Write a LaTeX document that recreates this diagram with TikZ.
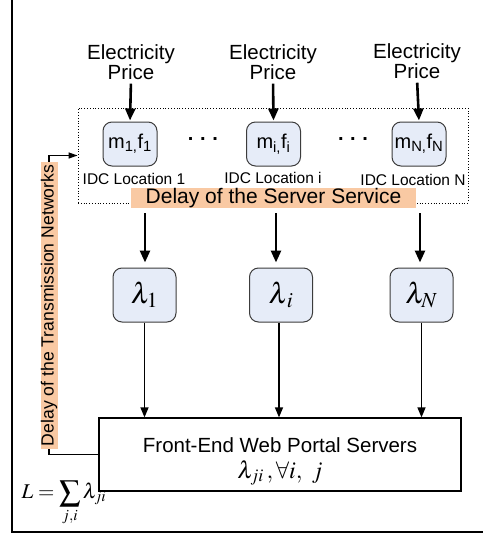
\documentclass[tikz,border=0pt]{standalone}
\usepackage{mathptmx}
\usepackage[no-math]{fontspec}
\setmainfont{Liberation Sans}
\usetikzlibrary{arrows.meta}
\definecolor{boxfill}{RGB}{230,236,248}
\definecolor{boxline}{RGB}{60,60,60}
\definecolor{bandfill}{RGB}{249,201,163}
\tikzset{
  pricelbl/.style={align=center,font=\fontsize{20.5}{20}\selectfont,inner sep=0pt},
  mbox/.style={draw=boxline,line width=1pt,fill=boxfill,rounded corners=9pt,minimum width=54pt,minimum height=44pt,inner sep=0pt,font=\fontsize{20}{20}\selectfont},
  lbox/.style={draw=boxline,line width=1pt,fill=boxfill,rounded corners=9pt,minimum width=63pt,minimum height=54pt,inner sep=0pt,font=\fontsize{29}{29}\selectfont},
  idclbl/.style={font=\fontsize{15.5}{15.5}\selectfont,inner sep=0pt},
  band/.style={fill=bandfill,inner sep=0pt,font=\fontsize{21}{21}\selectfont},
  dotslbl/.style={font=\fontsize{20}{20}\selectfont\bfseries,inner sep=0pt},
  thickarrow/.style={line width=2.6pt,-{Triangle[width=10pt,length=12pt]}},
  thinarrow/.style={line width=1.3pt,-{Triangle[width=8pt,length=10pt]}},
  thinline/.style={line width=1.2pt},
  frontbox/.style={draw,line width=1.2pt,minimum width=362pt,minimum height=73pt,inner sep=0pt},
}
\begin{document}
\begin{tikzpicture}[x=1pt,y=-1pt]
\useasboundingbox (0,0) rectangle (483,533);
\draw[line width=1.5pt] (12,0) -- (12,532) -- (483,532);
% prices
\node[pricelbl] (p1) at (131,62) {Electricity\\Price};
\node[pricelbl] (p2) at (273,62) {Electricity\\Price};
\node[pricelbl] (p3) at (417,61) {Electricity\\Price};
% dotted container
\node[draw,dotted,line width=0.8pt,minimum width=390pt,minimum height=95pt,inner sep=0pt] (dc) at (273,155.5) {};
% m boxes
\node[mbox] (m1) at (130,144) {m\textsubscript{1,}f\textsubscript{1}};
\node[mbox] (m2) at (273.5,144) {m\textsubscript{i,}f\textsubscript{i}};
\node[mbox] (m3) at (419,144) {m\textsubscript{N,}f\textsubscript{N}};
\node[dotslbl] (d1) at (203,139) {.\,\,.\,\,.};
\node[dotslbl] (d2) at (353,139) {.\,\,.\,\,.};
\node[idclbl] (i1) at (134,179) {IDC Location 1};
\node[idclbl] (i2) at (273,178) {IDC Location i};
\node[idclbl] (i3) at (413,180) {IDC Location N};
\node[band,minimum width=285pt,minimum height=15pt] (sb) at (273.5,198) {Delay of the Server Service};
% arrows price -> m
\draw[thickarrow,shorten <=4pt,shorten >=1pt] (p1.south) -- (m1.north);
\draw[thickarrow,shorten <=4pt,shorten >=1pt] (p2.south) -- (m2.north);
\draw[thickarrow,shorten <=4pt,shorten >=1pt] (p3.south) -- (m3.north);
% lambda boxes
\node[lbox] (l1) at (144.5,295) {$\lambda_{1}$};
\node[lbox] (l2) at (281,295) {$\lambda_{\,i}$};
\node[lbox] (l3) at (421.5,295) {$\lambda_{N}$};
\coordinate (a1) at (145,213);
\coordinate (a2) at (276,213);
\coordinate (a3) at (420,213);
\draw[thickarrow,shorten >=5pt] (a1) -- (a1 |- l1.north);
\draw[thickarrow,shorten >=5pt] (a2) -- (a2 |- l2.north);
\draw[thickarrow,shorten >=5pt] (a3) -- (a3 |- l3.north);
% front end
\node[frontbox] (fe) at (280,454.5) {};
\node[font=\fontsize{20.5}{20}\selectfont,inner sep=0pt] (fet) at (280,445) {Front-End Web Portal Servers};
\node[font=\fontsize{24}{24}\selectfont,inner sep=0pt] (fem) at (280,473) {$\lambda_{ji}\,,\forall i,\ j$};
\draw[thinarrow] (l1.south) -- (l1.south |- fe.north);
\draw[thinarrow] ([xshift=-2pt]l2.south) -- ([xshift=-2pt]l2.south |- fe.north);
\draw[thinarrow] (l3.south) -- (l3.south |- fe.north);
% transmission band
\node[band,rotate=90,minimum width=287pt,minimum height=17pt,font=\fontsize{17.6}{17.6}\selectfont] (tb) at (49,305.5) {Delay of the Transmission Networks};
\draw[thinline,-{Triangle[width=6pt,length=9pt]}] (tb.east) |- (dc.west);
\draw[thinline] (tb.west) |- (fe.west);
% sum
\node[font=\fontsize{21}{21}\selectfont,inner sep=0pt] (sum) at (64,503) {$\displaystyle L=\sum_{j,i}\lambda_{ji}$};
\end{tikzpicture}
\end{document}
